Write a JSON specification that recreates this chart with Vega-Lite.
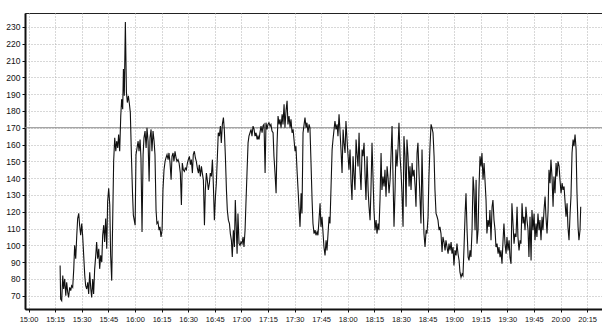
{
"$schema":"https://vega.github.io/schema/vega-lite/v6.json",
"width":577,"height":296,
"autosize":{"type":"none"},
"padding":{"left":25,"top":13,"right":0,"bottom":13},
"background":"white",
"config":{"view":{"stroke":"#222","strokeWidth":1},"font":"Liberation Sans","axis":{"labelOverlap":false,"labelFlush":false}},
"layer":[
{"data":{"values":[{}]},"mark":{"type":"rule","color":"#8a8a8a","strokeWidth":1},"encoding":{"y":{"datum":170,"type":"quantitative","scale":{"domain":[62.1,238.3],"nice":false,"zero":false},"axis":{"values":[70,80,90,100,110,120,130,140,150,160,170,180,190,200,210,220,230],"title":null,"grid":true,"gridDash":[1,2],"gridColor":"#b0b0b0","gridWidth":1,"domainColor":"#111","domainWidth":2,"tickColor":"#111","tickSize":3,"labelFontSize":8.5,"labelColor":"#111","labelPadding":2,"labelOverlap":false,"labelFlush":false}}}},
{"data":{"values":[
{"m":17.8,"hr":88},{"m":18.1,"hr":68},{"m":18.7,"hr":67},{"m":19.3,"hr":82},{"m":19.8,"hr":74},{"m":20.4,"hr":80},{"m":21.0,"hr":70},{"m":21.5,"hr":78},{"m":22.1,"hr":72},{"m":22.6,"hr":69},{"m":23.2,"hr":75},{"m":23.8,"hr":73},{"m":24.3,"hr":76},{"m":24.9,"hr":75},{"m":25.5,"hr":86},{"m":26.0,"hr":100},{"m":26.6,"hr":92},{"m":27.2,"hr":106},{"m":27.7,"hr":116},{"m":28.3,"hr":119},{"m":28.8,"hr":112},{"m":29.4,"hr":106},{"m":30.0,"hr":113},{"m":30.5,"hr":106},{"m":31.1,"hr":94},{"m":31.7,"hr":82},{"m":32.2,"hr":76},{"m":32.8,"hr":74},{"m":33.4,"hr":78},{"m":33.9,"hr":71},{"m":34.5,"hr":84},{"m":35.1,"hr":74},{"m":35.6,"hr":69},{"m":36.2,"hr":80},{"m":36.7,"hr":71},{"m":37.3,"hr":86},{"m":37.9,"hr":94},{"m":38.4,"hr":102},{"m":39.0,"hr":92},{"m":39.6,"hr":98},{"m":40.1,"hr":86},{"m":40.7,"hr":94},{"m":41.3,"hr":90},{"m":41.8,"hr":106},{"m":42.4,"hr":112},{"m":42.9,"hr":102},{"m":43.5,"hr":116},{"m":44.1,"hr":98},{"m":44.6,"hr":126},{"m":45.2,"hr":134},{"m":45.8,"hr":124},{"m":46.3,"hr":94},{"m":46.9,"hr":79},{"m":47.5,"hr":118},{"m":48.0,"hr":150},{"m":48.6,"hr":164},{"m":49.2,"hr":156},{"m":49.7,"hr":162},{"m":50.3,"hr":158},{"m":50.8,"hr":166},{"m":51.4,"hr":156},{"m":52.0,"hr":177},{"m":52.5,"hr":187},{"m":53.1,"hr":181},{"m":53.5,"hr":205},{"m":54.0,"hr":189},{"m":54.6,"hr":233},{"m":55.2,"hr":191},{"m":55.7,"hr":185},{"m":56.3,"hr":189},{"m":56.9,"hr":184},{"m":57.4,"hr":179},{"m":58.0,"hr":154},{"m":58.6,"hr":132},{"m":59.1,"hr":118},{"m":60.1,"hr":112},{"m":60.6,"hr":154},{"m":61.2,"hr":158},{"m":61.8,"hr":162},{"m":62.3,"hr":156},{"m":62.9,"hr":163},{"m":63.4,"hr":152},{"m":64.0,"hr":108},{"m":64.6,"hr":154},{"m":65.1,"hr":164},{"m":65.7,"hr":168},{"m":66.3,"hr":158},{"m":66.8,"hr":170},{"m":67.4,"hr":162},{"m":68.0,"hr":138},{"m":68.5,"hr":164},{"m":69.1,"hr":169},{"m":69.6,"hr":156},{"m":70.2,"hr":168},{"m":70.8,"hr":162},{"m":71.3,"hr":154},
{"m":71.9,"hr":121},{"m":72.4,"hr":113},{"m":73.0,"hr":114},{"m":73.6,"hr":109},{"m":74.1,"hr":111},{"m":74.7,"hr":105},{"m":75.3,"hr":109},{"m":75.8,"hr":133},{"m":76.4,"hr":145},{"m":77.0,"hr":150},{"m":77.5,"hr":152},{"m":78.1,"hr":154},{"m":78.7,"hr":151},{"m":79.2,"hr":155},{"m":79.8,"hr":149},{"m":80.4,"hr":139},{"m":80.9,"hr":153},{"m":81.5,"hr":155},{"m":82.0,"hr":150},{"m":82.6,"hr":156},{"m":83.2,"hr":152},{"m":83.7,"hr":150},{"m":84.3,"hr":151},{"m":84.9,"hr":149},{"m":85.6,"hr":143},{"m":86.2,"hr":124},{"m":86.7,"hr":149},{"m":87.3,"hr":145},{"m":87.9,"hr":144},{"m":88.4,"hr":146},{"m":89.0,"hr":145},{"m":89.6,"hr":149},{"m":90.1,"hr":151},{"m":90.7,"hr":153},{"m":91.3,"hr":148},{"m":91.8,"hr":151},{"m":92.4,"hr":143},{"m":92.9,"hr":154},{"m":93.5,"hr":156},{"m":94.1,"hr":152},{"m":94.6,"hr":150},{"m":95.2,"hr":146},{"m":95.8,"hr":143},{"m":96.3,"hr":148},{"m":96.9,"hr":141},{"m":97.5,"hr":147},{"m":98.0,"hr":143},{"m":98.6,"hr":139},{"m":99.2,"hr":112},{"m":99.7,"hr":133},{"m":100.3,"hr":143},{"m":100.8,"hr":139},{"m":101.4,"hr":133},{"m":102.0,"hr":137},{"m":102.5,"hr":143},{"m":103.1,"hr":141},{"m":103.7,"hr":151},{"m":104.2,"hr":137},{"m":104.8,"hr":115},{"m":105.4,"hr":129},{"m":105.9,"hr":137},{"m":106.5,"hr":153},{"m":107.0,"hr":167},{"m":107.6,"hr":165},{"m":108.2,"hr":171},{"m":108.7,"hr":161},{"m":109.3,"hr":172},{"m":109.9,"hr":176},{"m":110.4,"hr":169},{"m":111.0,"hr":153},{"m":111.6,"hr":133},{"m":112.1,"hr":121},{"m":112.7,"hr":115},{"m":113.3,"hr":113},{"m":113.8,"hr":107},{"m":114.4,"hr":103},{"m":114.9,"hr":93},{"m":115.5,"hr":109},{"m":116.1,"hr":99},{"m":116.6,"hr":127},{"m":117.2,"hr":109},{"m":117.6,"hr":95},{"m":118.1,"hr":119},{"m":118.7,"hr":101},{"m":119.3,"hr":100},{"m":119.8,"hr":102},{"m":120.4,"hr":101},{"m":121.0,"hr":105},{"m":121.5,"hr":99},{"m":122.1,"hr":109},{"m":122.6,"hr":125},{"m":123.2,"hr":143},{"m":123.8,"hr":161},{"m":124.3,"hr":165},{"m":124.9,"hr":167},{"m":125.5,"hr":169},{"m":126.0,"hr":165},{"m":126.6,"hr":171},{"m":127.2,"hr":169},{"m":127.7,"hr":165},{"m":128.3,"hr":167},{"m":128.9,"hr":163},{"m":129.4,"hr":165},{"m":130.0,"hr":163},{"m":130.5,"hr":167},{"m":131.1,"hr":171},{"m":131.7,"hr":167},{"m":132.2,"hr":171},{"m":132.8,"hr":172},{"m":133.4,"hr":143},
{"m":133.9,"hr":173},{"m":134.5,"hr":169},{"m":135.0,"hr":172},{"m":135.6,"hr":173},{"m":136.2,"hr":171},{"m":136.7,"hr":172},{"m":137.3,"hr":168},{"m":137.9,"hr":167},{"m":138.4,"hr":153},{"m":139.0,"hr":143},{"m":139.6,"hr":131},{"m":140.1,"hr":159},{"m":140.7,"hr":177},{"m":141.3,"hr":172},{"m":141.8,"hr":175},{"m":142.4,"hr":170},{"m":143.0,"hr":178},{"m":143.5,"hr":172},{"m":144.1,"hr":184},{"m":144.6,"hr":170},{"m":145.2,"hr":180},{"m":145.8,"hr":186},{"m":146.3,"hr":172},{"m":146.9,"hr":177},{"m":147.5,"hr":170},{"m":148.0,"hr":175},{"m":148.6,"hr":167},{"m":149.2,"hr":169},{"m":149.7,"hr":163},{"m":150.3,"hr":156},{"m":150.8,"hr":159},{"m":151.4,"hr":145},{"m":152.0,"hr":133},{"m":152.5,"hr":123},{"m":153.1,"hr":111},{"m":153.7,"hr":131},{"m":154.2,"hr":119},{"m":154.8,"hr":167},{"m":155.4,"hr":172},{"m":155.9,"hr":176},{"m":156.5,"hr":170},{"m":157.0,"hr":173},{"m":157.6,"hr":167},{"m":158.2,"hr":172},{"m":158.7,"hr":170},{"m":159.3,"hr":149},{"m":159.9,"hr":127},{"m":160.4,"hr":113},{"m":161.0,"hr":107},{"m":161.6,"hr":109},{"m":162.1,"hr":106},{"m":162.7,"hr":108},{"m":163.2,"hr":106},{"m":163.8,"hr":115},{"m":164.4,"hr":125},{"m":164.9,"hr":111},{"m":165.5,"hr":117},{"m":166.1,"hr":107},{"m":166.6,"hr":99},{"m":167.2,"hr":94},{"m":167.8,"hr":103},{"m":168.3,"hr":97},{"m":168.9,"hr":107},{"m":169.5,"hr":117},{"m":170.0,"hr":113},{"m":170.6,"hr":135},{"m":171.2,"hr":157},{"m":171.7,"hr":163},{"m":172.3,"hr":169},{"m":172.8,"hr":174},{"m":173.4,"hr":169},{"m":174.0,"hr":172},{"m":174.5,"hr":165},{"m":175.1,"hr":178},{"m":175.7,"hr":167},{"m":176.2,"hr":157},{"m":176.8,"hr":143},{"m":177.4,"hr":169},{"m":177.9,"hr":161},{"m":178.5,"hr":155},{"m":179.0,"hr":174},{"m":179.6,"hr":163},{"m":180.2,"hr":153},{"m":180.7,"hr":145},{"m":181.3,"hr":157},{"m":181.9,"hr":137},{"m":182.4,"hr":127},{"m":183.0,"hr":153},{"m":183.6,"hr":141},{"m":184.1,"hr":133},{"m":184.7,"hr":163},{"m":185.2,"hr":155},{"m":185.8,"hr":147},{"m":186.4,"hr":167},{"m":186.9,"hr":145},{"m":187.5,"hr":133},{"m":188.1,"hr":157},{"m":188.6,"hr":153},{"m":189.2,"hr":161},{"m":189.8,"hr":141},{"m":190.3,"hr":127},{"m":190.9,"hr":153},{"m":191.5,"hr":133},{"m":192.0,"hr":123},{"m":192.6,"hr":115},{"m":193.1,"hr":133},{"m":193.7,"hr":161},{"m":194.3,"hr":139},{"m":194.8,"hr":121},
{"m":195.4,"hr":109},{"m":196.0,"hr":115},{"m":196.5,"hr":107},{"m":197.1,"hr":113},{"m":197.6,"hr":109},{"m":198.2,"hr":127},{"m":198.8,"hr":155},{"m":199.3,"hr":133},{"m":199.9,"hr":141},{"m":200.5,"hr":135},{"m":201.0,"hr":145},{"m":201.6,"hr":129},{"m":202.2,"hr":147},{"m":202.7,"hr":141},{"m":203.3,"hr":131},{"m":203.9,"hr":139},{"m":204.4,"hr":153},{"m":205.0,"hr":171},{"m":205.5,"hr":143},{"m":206.1,"hr":111},{"m":206.7,"hr":133},{"m":207.2,"hr":157},{"m":207.8,"hr":147},{"m":208.4,"hr":159},{"m":208.9,"hr":173},{"m":209.5,"hr":153},{"m":210.1,"hr":143},{"m":210.6,"hr":131},{"m":211.2,"hr":111},{"m":211.7,"hr":165},{"m":212.3,"hr":153},{"m":212.9,"hr":123},{"m":213.4,"hr":163},{"m":214.0,"hr":153},{"m":214.6,"hr":135},{"m":215.1,"hr":147},{"m":215.7,"hr":133},{"m":216.3,"hr":149},{"m":216.8,"hr":141},{"m":217.4,"hr":145},{"m":218.0,"hr":135},{"m":218.5,"hr":123},{"m":219.1,"hr":155},{"m":219.6,"hr":161},{"m":220.2,"hr":143},{"m":220.8,"hr":127},{"m":221.3,"hr":113},{"m":221.9,"hr":157},{"m":222.5,"hr":125},{"m":223.0,"hr":107},{"m":223.6,"hr":99},{"m":224.2,"hr":109},{"m":224.7,"hr":107},{"m":225.3,"hr":117},{"m":225.8,"hr":141},{"m":226.4,"hr":159},{"m":227.0,"hr":172},{"m":227.5,"hr":170},{"m":228.1,"hr":167},{"m":228.7,"hr":153},{"m":229.2,"hr":133},{"m":229.8,"hr":119},{"m":230.4,"hr":117},{"m":230.9,"hr":115},{"m":231.5,"hr":109},{"m":232.0,"hr":111},{"m":232.6,"hr":107},{"m":233.2,"hr":96},{"m":233.7,"hr":105},{"m":234.3,"hr":102},{"m":234.9,"hr":97},{"m":235.4,"hr":103},{"m":236.0,"hr":99},{"m":236.6,"hr":95},{"m":237.1,"hr":101},{"m":237.7,"hr":97},{"m":238.3,"hr":102},{"m":238.8,"hr":95},{"m":239.4,"hr":99},{"m":239.9,"hr":88},{"m":240.5,"hr":97},{"m":241.1,"hr":94},{"m":241.6,"hr":101},{"m":242.2,"hr":95},{"m":242.8,"hr":91},{"m":243.3,"hr":84},{"m":243.9,"hr":81},{"m":244.5,"hr":83},{"m":245.0,"hr":82},{"m":245.6,"hr":99},{"m":246.2,"hr":119},{"m":246.7,"hr":131},{"m":247.3,"hr":109},{"m":247.9,"hr":93},{"m":248.4,"hr":91},{"m":249.0,"hr":97},{"m":249.5,"hr":93},{"m":250.1,"hr":109},{"m":250.7,"hr":141},{"m":251.2,"hr":133},{"m":251.8,"hr":109},{"m":252.4,"hr":139},{"m":252.9,"hr":101},{"m":253.5,"hr":109},{"m":254.0,"hr":133},{"m":254.6,"hr":153},{"m":255.2,"hr":147},{"m":255.7,"hr":155},{"m":256.3,"hr":139},{"m":256.9,"hr":149},
{"m":258.0,"hr":127},{"m":258.5,"hr":107},{"m":259.1,"hr":115},{"m":259.7,"hr":111},{"m":260.2,"hr":121},{"m":260.8,"hr":103},{"m":261.4,"hr":123},{"m":261.9,"hr":127},{"m":262.5,"hr":115},{"m":263.1,"hr":109},{"m":263.6,"hr":99},{"m":264.2,"hr":101},{"m":264.8,"hr":95},{"m":265.3,"hr":99},{"m":265.9,"hr":93},{"m":266.4,"hr":97},{"m":267.0,"hr":89},{"m":267.6,"hr":103},{"m":268.1,"hr":113},{"m":268.7,"hr":101},{"m":269.3,"hr":95},{"m":269.8,"hr":105},{"m":270.4,"hr":97},{"m":271.0,"hr":103},{"m":271.5,"hr":93},{"m":272.1,"hr":89},{"m":272.6,"hr":125},{"m":273.2,"hr":113},{"m":273.8,"hr":101},{"m":274.3,"hr":107},{"m":274.9,"hr":105},{"m":275.5,"hr":123},{"m":276.0,"hr":105},{"m":276.6,"hr":97},{"m":277.2,"hr":103},{"m":277.7,"hr":101},{"m":278.3,"hr":125},{"m":278.9,"hr":113},{"m":279.4,"hr":117},{"m":280.0,"hr":109},{"m":280.5,"hr":123},{"m":281.1,"hr":115},{"m":281.7,"hr":109},{"m":282.2,"hr":93},{"m":282.8,"hr":117},{"m":283.4,"hr":91},{"m":283.9,"hr":121},{"m":284.5,"hr":109},{"m":285.1,"hr":119},{"m":285.6,"hr":103},{"m":286.2,"hr":113},{"m":286.7,"hr":105},{"m":287.3,"hr":119},{"m":287.9,"hr":109},{"m":288.4,"hr":115},{"m":289.0,"hr":103},{"m":289.6,"hr":117},{"m":290.1,"hr":109},{"m":290.7,"hr":121},{"m":291.3,"hr":129},{"m":291.8,"hr":117},{"m":292.4,"hr":107},{"m":293.0,"hr":121},{"m":293.5,"hr":145},{"m":294.1,"hr":137},{"m":294.6,"hr":151},{"m":295.2,"hr":141},{"m":295.8,"hr":123},{"m":296.3,"hr":141},{"m":296.9,"hr":131},{"m":297.5,"hr":149},{"m":298.0,"hr":141},{"m":298.6,"hr":150},{"m":299.2,"hr":147},{"m":299.7,"hr":139},{"m":300.3,"hr":131},{"m":300.9,"hr":137},{"m":301.4,"hr":133},{"m":302.0,"hr":135},{"m":302.5,"hr":127},{"m":303.1,"hr":117},{"m":303.7,"hr":125},{"m":304.2,"hr":111},{"m":304.8,"hr":103},{"m":305.4,"hr":119},{"m":305.9,"hr":129},{"m":306.5,"hr":155},{"m":307.1,"hr":163},{"m":307.6,"hr":159},{"m":308.2,"hr":166},{"m":308.8,"hr":157},{"m":309.3,"hr":131},{"m":309.9,"hr":111},{"m":310.4,"hr":103},{"m":311.0,"hr":109},{"m":311.4,"hr":123}
]},
"mark":{"type":"line","color":"#111","strokeWidth":1.1,"clip":true},
"encoding":{
"x":{"field":"m","type":"quantitative","scale":{"domain":[-2,323.4],"nice":false,"zero":false},
"axis":{"values":[0,15,30,45,60,75,90,105,120,135,150,165,180,195,210,225,240,255,270,285,300,315],"labelExpr":"timeFormat(datetime(2000,0,1,15,datum.value),'%H:%M')","title":null,"grid":true,"gridDash":[1,2],"gridColor":"#b0b0b0","gridWidth":1,"domainColor":"#111","domainWidth":2,"tickColor":"#111","tickSize":3,"labelFontSize":7.5,"labelColor":"#111","labelPadding":3,"labelFlush":false,"labelOverlap":false}},
"y":{"field":"hr","type":"quantitative","scale":{"domain":[62.1,238.3],"nice":false,"zero":false},
"axis":{"values":[70,80,90,100,110,120,130,140,150,160,170,180,190,200,210,220,230],"title":null,"grid":true,"gridDash":[1,2],"gridColor":"#b0b0b0","gridWidth":1,"domainColor":"#111","domainWidth":2,"tickColor":"#111","tickSize":3,"labelFontSize":8.5,"labelColor":"#111","labelPadding":2,"labelOverlap":false,"labelFlush":false}}
}}
]
}
